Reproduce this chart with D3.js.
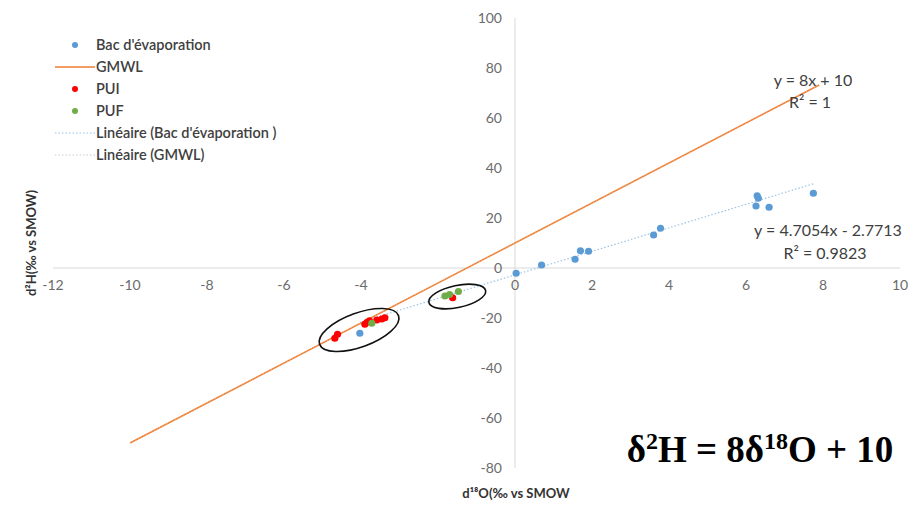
<!DOCTYPE html>
<html lang="fr">
<head>
<meta charset="UTF-8" />
<title>d2H vs d18O</title>
<style>
  body { margin: 0; background: #fff; }
  svg { display: block; font-family: Lato, 'Open Sans', sans-serif; }
  .tick-label { font-size: 14px; fill: #6b6b6b; }
  .legend text { font-size: 14.5px; fill: #404040; font-weight: 600; }
  .eq { font-size: 16px; fill: #404040; }
  .axis-title { font-size: 13px; font-weight: 700; fill: #333; }
</style>
</head>
<body>
<svg id="chart" width="916" height="506"></svg>
<script src="https://d3js.org/d3.v7.min.js"></script>
<script>
// ---- data ----
const xTicks = [-12, -10, -8, -6, -4, 0, 2, 4, 6, 8, 10];   // -2 is hidden behind the circled group
const yTicks = [100, 80, 60, 40, 20, 0, -20, -40, -60, -80];

const bacX = [0.03, 0.69, 1.56, 1.70, 1.91, 3.60, 3.78, 6.26, 6.29, 6.32, 6.60, 7.75, -4.03];
const bacY = [-2.1, 1.2, 3.5, 6.9, 6.7, 13.2, 15.9, 24.8, 28.9, 27.9, 24.3, 29.9, -26.1];

const puiX = [-4.68, -4.61, -3.90, -3.84, -3.78, -3.59, -3.46, -3.38, -1.62];
const puiY = [-28.1, -26.5, -22.5, -21.7, -21.1, -20.8, -20.4, -19.9, -11.9];

const pufX = [-3.72, -1.82, -1.70, -1.47];
const pufY = [-22.1, -11.2, -10.6, -9.4];

const gmwlX = [-10, 7.9];
const gmwlY = [-70, 73.2];

const trendBacX = [-4.03, 7.75];
const trendBacY = [-21.7, 33.7];

const legendLabels = ["Bac d'évaporation", "GMWL", "PUI", "PUF", "Linéaire (Bac d'évaporation )", "Linéaire (GMWL)"];

// ---- scales ----
const svg = d3.select("#chart");
const x = d3.scaleLinear().domain([-12, 10]).range([53, 900]);
const y = d3.scaleLinear().domain([-80, 100]).range([468, 18]);

const zip = (xs, ys) => xs.map((v, i) => [v, ys[i]]);
const line = d3.line().x(d => x(d[0])).y(d => y(d[1]));

// axes lines through zero
svg.append("line")
  .attr("x1", x(-12)).attr("x2", x(10))
  .attr("y1", y(0)).attr("y2", y(0))
  .attr("stroke", "#d9d9d9");
svg.append("line")
  .attr("x1", x(0)).attr("x2", x(0))
  .attr("y1", y(100)).attr("y2", y(-80))
  .attr("stroke", "#d9d9d9");

// tick labels
svg.selectAll(".xt").data(xTicks).join("text")
  .attr("class", "tick-label")
  .attr("x", d => x(d)).attr("y", y(0) + 22)
  .attr("text-anchor", "middle")
  .text(d => d);
svg.selectAll(".yt").data(yTicks).join("text")
  .attr("class", "tick-label")
  .attr("x", x(0) - 13).attr("y", d => y(d) + 5)
  .attr("text-anchor", "end")
  .text(d => d);

// GMWL + its linear trendline
svg.append("path").datum(zip(gmwlX, gmwlY))
  .attr("d", line).attr("fill", "none")
  .attr("stroke", "#ed7d31").attr("stroke-width", 1.5);
svg.append("path").datum(zip(gmwlX, gmwlY))
  .attr("d", line).attr("fill", "none")
  .attr("stroke", "#f4b183").attr("stroke-width", 1)
  .attr("stroke-dasharray", "1,2");

// evaporation pan trendline
svg.append("path").datum(zip(trendBacX, trendBacY))
  .attr("d", line).attr("fill", "none")
  .attr("stroke", "#9dc3e6").attr("stroke-width", 1.2)
  .attr("stroke-dasharray", "1.5,2");

// points
function dots(xs, ys, color) {
  svg.append("g").selectAll("circle").data(zip(xs, ys)).join("circle")
    .attr("cx", d => x(d[0])).attr("cy", d => y(d[1]))
    .attr("r", 3.6).attr("fill", color);
}
dots(bacX, bacY, "#5b9bd5");
dots(puiX, puiY, "#ff0000");
dots(pufX, pufY, "#70ad47");

// hand-drawn circles round the two groups
const rings = [
  { cx: -4.05, cy: -24.8, rx: 42, ry: 17, rot: -20 },
  { cx: -1.5, cy: -11.4, rx: 29, ry: 11, rot: -12 }
];
svg.selectAll(".ring").data(rings).join("ellipse")
  .attr("cx", 0).attr("cy", 0)
  .attr("rx", d => d.rx).attr("ry", d => d.ry)
  .attr("transform", d => `translate(${x(d.cx)},${y(d.cy)}) rotate(${d.rot})`)
  .attr("fill", "none").attr("stroke", "#111").attr("stroke-width", 1.6);

// equations
svg.append("text").attr("class", "eq").attr("x", 813).attr("y", 86).attr("text-anchor", "middle").text("y = 8x + 10");
svg.append("text").attr("class", "eq").attr("x", 810).attr("y", 108).attr("text-anchor", "middle").text("R² = 1");
svg.append("text").attr("class", "eq").attr("x", 828).attr("y", 236).attr("text-anchor", "middle").text("y = 4.7054x - 2.7713");
svg.append("text").attr("class", "eq").attr("x", 825).attr("y", 259).attr("text-anchor", "middle").text("R² = 0.9823");

// axis titles
svg.append("text").attr("class", "axis-title")
  .attr("transform", "translate(36,243) rotate(-90)")
  .attr("text-anchor", "middle")
  .text("d²H(‰ vs SMOW)");
svg.append("text").attr("class", "axis-title")
  .attr("x", 516).attr("y", 498)
  .attr("text-anchor", "middle")
  .text("d¹⁸O(‰ vs SMOW");

// legend
const lg = svg.append("g").attr("class", "legend");
const kinds = ["dot", "line", "dot", "dot", "dotline", "dotline"];
const colors = ["#5b9bd5", "#ed7d31", "#ff0000", "#70ad47", "#9dc3e6", "#c9c9c9"];
legendLabels.forEach((lab, i) => {
  const ly = 45 + i * 22;
  if (kinds[i] === "dot") {
    lg.append("circle").attr("cx", 75).attr("cy", ly).attr("r", 3).attr("fill", colors[i]);
  } else {
    lg.append("line").attr("x1", 55).attr("x2", 95).attr("y1", ly).attr("y2", ly)
      .attr("stroke", colors[i]).attr("stroke-width", kinds[i] === "line" ? 1.5 : 1.2)
      .attr("stroke-dasharray", kinds[i] === "line" ? null : "1.5,2");
  }
  lg.append("text").attr("x", 96).attr("y", ly + 5).text(lab);
});

// big equation
svg.append("text")
  .attr("x", 760).attr("y", 462)
  .attr("text-anchor", "middle")
  .style("font-family", "'Liberation Serif', 'Times New Roman', serif")
  .style("font-weight", "700").style("font-size", "37px").attr("fill", "#000")
  .html("δ<tspan font-size='24px' dy='-13'>2</tspan><tspan dy='13'>H = 8δ</tspan><tspan font-size='24px' dy='-13'>18</tspan><tspan dy='13'>O + 10</tspan>");
</script>
</body>
</html>
